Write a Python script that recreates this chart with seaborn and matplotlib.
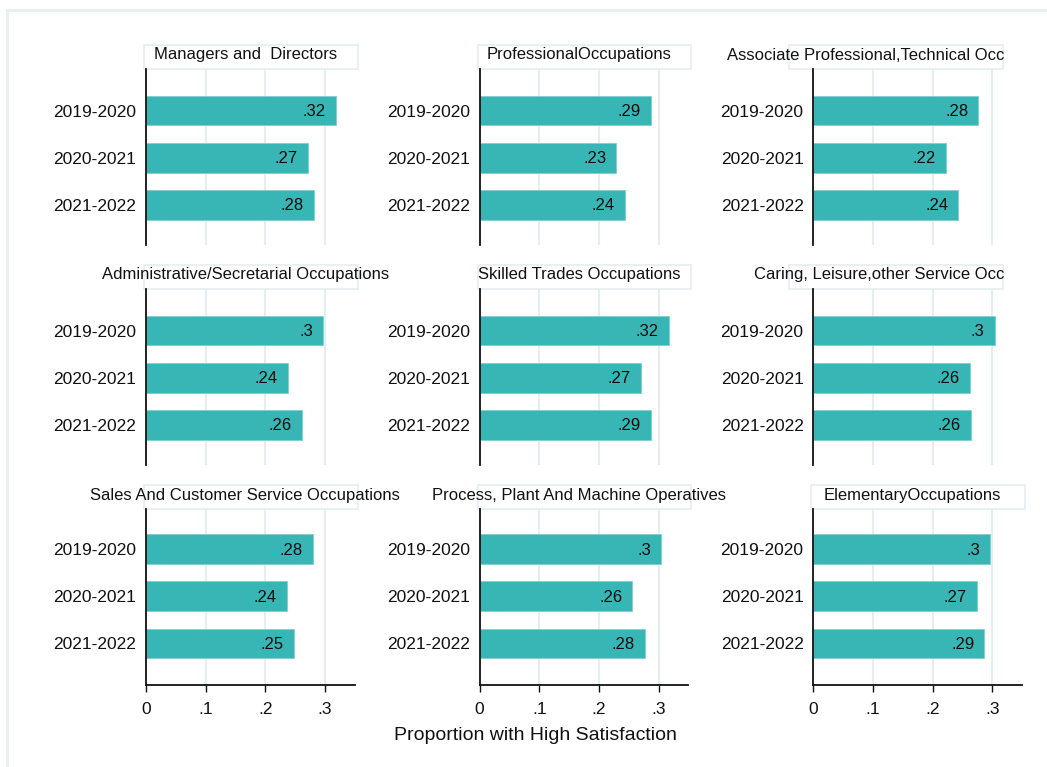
import matplotlib
matplotlib.use("Agg")
import matplotlib.pyplot as plt
import seaborn as sns
import numpy as np
import pandas as pd
from matplotlib.patches import Rectangle

# Données
periods = ["2019-2020", "2020-2021", "2021-2022"]
occupations = [
    "Managers and  Directors",
    "ProfessionalOccupations",
    "Associate Professional,Technical Occ",
    "Administrative/Secretarial Occupations",
    "Skilled Trades Occupations",
    "Caring, Leisure,other Service Occ",
    "Sales And Customer Service Occupations",
    "Process, Plant And Machine Operatives",
    "ElementaryOccupations",
]
managers = [0.318, 0.271, 0.281]
professional = [0.287, 0.229, 0.243]
associate = [0.277, 0.223, 0.243]
administrative = [0.297, 0.238, 0.261]
skilled = [0.317, 0.270, 0.287]
caring = [0.304, 0.262, 0.264]
sales = [0.280, 0.236, 0.248]
process = [0.304, 0.256, 0.277]
elementary = [0.296, 0.274, 0.287]
xticks = [0, 0.1, 0.2, 0.3]
xtick_labels = ["0", ".1", ".2", ".3"]

series = [managers, professional, associate, administrative, skilled,
          caring, sales, process, elementary]

rows = []
for occ, vals in zip(occupations, series):
    for p, v in zip(periods, vals):
        rows.append({"occupation": occ, "period": p, "value": v})
df = pd.DataFrame(rows)

sns.set_style("white")
plt.rcParams["font.family"] = ["Liberation Sans", "DejaVu Sans"]

teal = "#38b6b6"
grid_col = "#e4eef1"
W, H = 1047, 767

fig, axes = plt.subplots(3, 3, figsize=(W / 100, H / 100), dpi=100)
fig.subplots_adjust(left=146 / W, right=1022 / W, top=1 - 69 / H,
                    bottom=1 - 685 / H, wspace=125 / 209, hspace=44 / 176)


def fmt(v):
    s = f"{v:.2f}".lstrip("0").rstrip("0")
    return s


titles = []
for i, (ax, occ) in enumerate(zip(axes.flat, occupations)):
    sub = df[df["occupation"] == occ]
    sns.barplot(data=sub, x="value", y="period", orient="h", color=teal,
                saturation=1, width=0.63, edgecolor="#7fd0d0", linewidth=0.6,
                order=periods, ax=ax, zorder=2)
    ax.set_xlim(0, 0.35)
    if i < 6:
        ax.set_ylim(2.85, -0.88)
    else:
        ax.set_ylim(2.88, -0.85)
    ax.set_xticks(xticks)
    ax.set_xlabel("")
    ax.set_ylabel("")
    for x in xticks[1:]:
        ax.axvline(x, color=grid_col, lw=1.5, zorder=0)
    for j, v in enumerate(sub["value"]):
        ax.annotate(fmt(v), (v, j), xytext=(-10, -1), textcoords="offset pixels",
                    ha="right", va="center", fontsize=12, color="#0a0a0a", zorder=3)
    for s in ["top", "right"]:
        ax.spines[s].set_visible(False)
    ax.spines["left"].set_color("#111111")
    ax.spines["left"].set_linewidth(1.3)
    ax.tick_params(axis="y", length=0, pad=7, labelsize=12.5, labelcolor="#111111")
    if i >= 6:
        ax.spines["bottom"].set_color("#111111")
        ax.spines["bottom"].set_linewidth(1.3)
        ax.set_xticklabels(xtick_labels)
        ax.tick_params(axis="x", length=5, width=1, color="#111111", pad=7,
                       labelsize=12.5, labelcolor="#111111", bottom=True)
    else:
        ax.spines["bottom"].set_visible(False)
        ax.tick_params(axis="x", bottom=False, labelbottom=False)

    # Boîte de titre
    box = Rectangle((-2 / 209, 1.0), 1 + 5 / 209, 24 / 176, transform=ax.transAxes,
                    facecolor="white", edgecolor=grid_col, lw=1.2, clip_on=False, zorder=1)
    ax.add_patch(box)
    t = ax.text(0.5 - 5 / 209, 1.0 + 14 / 176, occ, transform=ax.transAxes,
                ha="center", va="center", fontsize=12, color="#111111", zorder=2)
    titles.append((ax, t, box))

# Décaler les titres trop longs vers la gauche
fig.canvas.draw()
renderer = fig.canvas.get_renderer()
for ax, t, box in titles:
    bb = t.get_window_extent(renderer)
    if bb.x1 > 1004:
        shift = (bb.x1 - 1004) / ax.bbox.width
        x, y = t.get_position()
        t.set_position((x - shift, y))
        box.set_x(box.get_x() - min(shift, 22 / 209))

fig.text(535 / W, 1 - 735 / H, "Proportion with High Satisfaction",
         ha="center", va="center", fontsize=14, color="#111111")

# Cadre extérieur
fig.patches.append(Rectangle((7 / W, -0.1), 1.2, 1.1 - 10 / H, transform=fig.transFigure,
                             fill=False, edgecolor="#e6eff2", lw=2))

fig.savefig("out.png", dpi=100)
